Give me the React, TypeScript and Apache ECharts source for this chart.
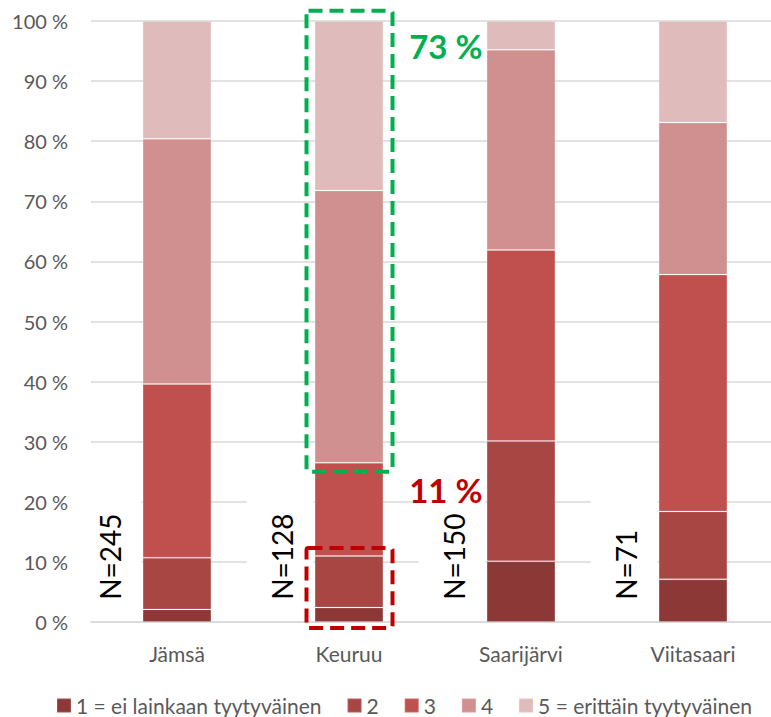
import React, { useEffect, useRef } from "react";
import * as echarts from "echarts";

const categories = ["Jämsä", "Keuruu", "Saarijärvi", "Viitasaari"];
const seriesNames = [
  "1 = ei lainkaan tyytyväinen",
  "2",
  "3",
  "4",
  "5 = erittäin tyytyväinen",
];
const s1 = [2.1, 2.4, 10.1, 7.1];
const s2 = [8.6, 8.6, 20.0, 11.3];
const s3 = [28.9, 15.5, 31.8, 39.4];
const s4 = [40.8, 45.3, 33.3, 25.3];
const s5 = [19.6, 28.2, 4.8, 16.9];
const seriesColors = ["#8C3837", "#A84644", "#C0504D", "#D0908F", "#E0BBBB"];
const nValues = [245, 128, 150, 71];

// highlight boxes around Keuruu
const highlightCat = [1, 1];
const highlightFrom = [25, -1];
const highlightTo = [101.7, 12.3];
const highlightColors = ["#00B050", "#C00000"];
const highlightLabels = ["73 %", "11 %"];
const highlightLabelAt = [95.8, 22];

const FONT = "Lato, 'Open Sans', sans-serif";

export default function App() {
  const ref = useRef<HTMLDivElement>(null);
  useEffect(() => {
    if (!ref.current) return;
    const chart = echarts.init(ref.current, undefined, { renderer: "svg" });
    const stacks = [s1, s2, s3, s4, s5];
    const barSeries = stacks.map((d, i) => ({
      name: seriesNames[i],
      type: "bar",
      stack: "total",
      barWidth: "40%",
      data: d,
      itemStyle: {
        color: seriesColors[i],
        borderColor: "rgba(255,255,255,0.15)",
        borderWidth: 1,
      },
    }));
    const option: any = {
      animation: false,
      textStyle: { fontFamily: FONT },
      grid: {
        left: 91,
        top: 21,
        width: 688,
        height: 601,
        containLabel: false,
        outerBoundsMode: "none",
      },
      legend: {
        data: seriesNames,
        left: 51,
        top: 690,
        icon: "rect",
        itemWidth: 14,
        itemHeight: 14,
        itemGap: 25,
        textStyle: { fontSize: 21, color: "#595959", fontFamily: FONT },
      },
      xAxis: {
        type: "category",
        data: categories,
        axisTick: { show: false },
        axisLine: { lineStyle: { color: "#D9D9D9", width: 1.5 } },
        axisLabel: { color: "#595959", fontSize: 21, margin: 21, fontFamily: FONT },
      },
      yAxis: {
        type: "value",
        min: 0,
        max: 100,
        interval: 10,
        axisLine: { show: false },
        axisTick: { show: false },
        splitLine: { lineStyle: { color: "#D9D9D9", width: 1.5 } },
        axisLabel: {
          color: "#595959",
          fontSize: 20,
          margin: 23,
          fontFamily: FONT,
          formatter: "{value} %",
        },
      },
      series: [
        ...barSeries,
        {
          type: "custom",
          name: "nlabels",
          data: nValues.map((n, i) => [i, 0, n]),
          encode: { x: 0, y: 1 },
          z: 5,
          renderItem: (params: any, api: any) => {
            const idx = api.value(0);
            const n = api.value(2);
            const base = api.coord([idx, 0]);
            const band = api.size([1, 0])[0];
            const barLeft = base[0] - band * 0.2;
            const top = api.coord([idx, 21])[1];
            const bot = api.coord([idx, 1])[1];
            const textY = api.coord([idx, 3.7])[1];
            return {
              type: "group",
              children: [
                {
                  type: "rect",
                  shape: { x: barLeft - 68, y: top, width: 67, height: bot - top },
                  style: { fill: "#ffffff" },
                },
                {
                  type: "text",
                  x: barLeft - 33,
                  y: textY,
                  rotation: Math.PI / 2,
                  style: {
                    text: "N=" + n,
                    fill: "#000000",
                    font: "28px " + FONT,
                    textAlign: "left",
                    textVerticalAlign: "middle",
                  },
                },
              ],
            };
          },
        },
        {
          type: "custom",
          name: "highlights",
          data: highlightCat.map((c, i) => [c, highlightFrom[i], highlightTo[i], highlightLabelAt[i], i]),
          encode: { x: 0, y: [1, 2] },
          z: 10,
          renderItem: (params: any, api: any) => {
            const idx = api.value(0);
            const i = api.value(4);
            const band = api.size([1, 0])[0];
            const c = api.coord([idx, 0])[0];
            const yTop = api.coord([idx, api.value(2)])[1];
            const yBot = api.coord([idx, api.value(1)])[1];
            const yLab = api.coord([idx, api.value(3)])[1];
            const color = highlightColors[i];
            return {
              type: "group",
              children: [
                {
                  type: "rect",
                  shape: { x: c - band * 0.247, y: yTop, width: band * 0.5, height: yBot - yTop, r: 2 },
                  style: { fill: "none", stroke: color, lineWidth: 4, lineDash: [14, 7] },
                },
                {
                  type: "text",
                  x: c + band * 0.35,
                  y: yLab,
                  style: {
                    text: highlightLabels[i],
                    fill: color,
                    font: "bold 33px " + FONT,
                    textAlign: "left",
                    textVerticalAlign: "middle",
                  },
                },
              ],
            };
          },
        },
      ],
    };
    chart.setOption(option);
    return () => chart.dispose();
  }, []);
  return (
    <div
      ref={ref}
      style={{ position: "fixed", left: 0, top: 0, width: 771, height: 717, background: "#fff" }}
    />
  );
}
